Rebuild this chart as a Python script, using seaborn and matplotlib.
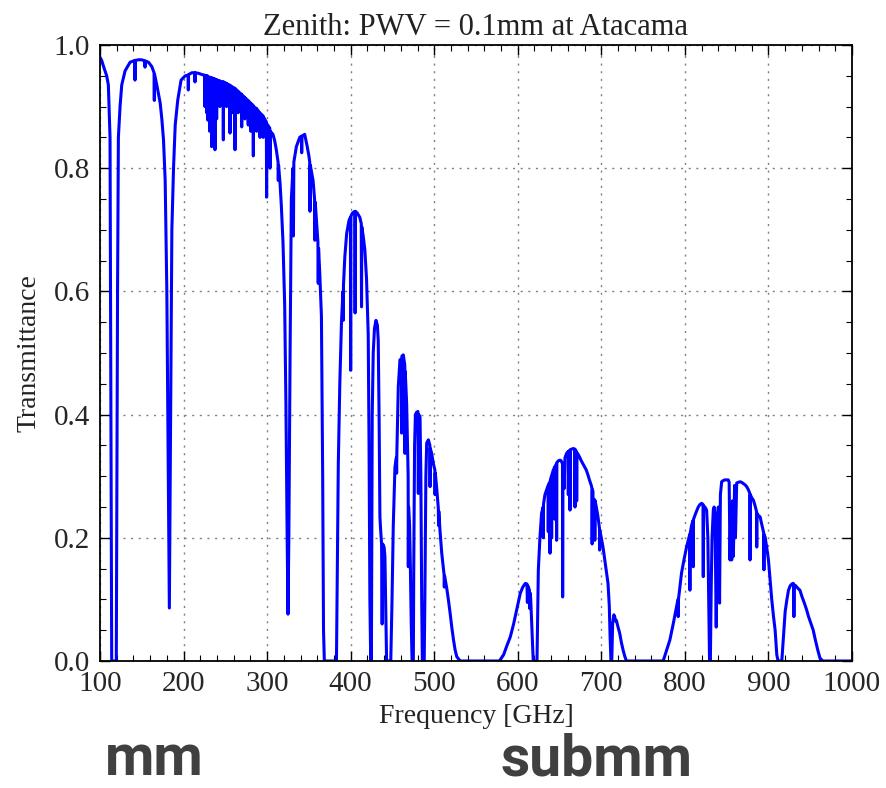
import matplotlib
matplotlib.use("Agg")
import matplotlib.pyplot as plt
import seaborn as sns
import numpy as np
import pandas as pd
from matplotlib.ticker import MultipleLocator

# ---------------- data ----------------
# window 1: 100 - 183 GHz
freq_w1 = [100, 102, 105, 108, 110, 112, 113, 114, 119.5, 121, 122, 124, 126, 130, 136,
           141.6, 141.9, 142.2, 146, 150, 153.6, 153.9, 154.2, 158, 162, 164.7, 165, 165.3,
           168, 172, 174, 176, 178, 180, 181.5, 183]
tr_w1 = [0.98, 0.975, 0.962, 0.95, 0.935, 0.85, 0.45, 0.0, 0.0, 0.6, 0.85, 0.9, 0.935, 0.958, 0.972,
         0.975, 0.943, 0.975, 0.976, 0.976, 0.974, 0.964, 0.974, 0.972, 0.965, 0.955, 0.91, 0.952,
         0.935, 0.906, 0.88, 0.846, 0.78, 0.6, 0.35, 0.086]

# window 2: 183 - 325 GHz
freq_w2 = [184.5, 186, 188, 190, 193, 197, 202, 205.4, 205.7, 206.0, 210, 213.4, 213.7, 214.0,
           218, 222, 225.3, 225.6, 225.9, 227.3, 227.6, 227.9, 228.7, 229.0, 229.3, 231.0, 231.3,
           231.6, 233.3, 233.6, 233.9, 235.5, 235.8, 236.1, 237.3, 237.6, 237.9, 239.3, 239.6,
           239.9, 243.1, 243.4, 243.7, 247.3, 247.6, 247.9, 251.1, 251.4, 251.7, 255.3, 255.6,
           255.9, 258.5, 258.8, 259.1, 261.3, 261.6, 261.9, 265.1, 265.4, 265.7, 269.3, 269.6,
           269.9, 273.1, 273.4, 273.7, 277.1, 277.4, 277.7, 280.1, 280.4, 280.7, 283.2, 283.5,
           283.8, 287.1, 287.4, 287.7, 291.2, 291.5, 291.8, 295.1, 295.4, 295.7, 299.1, 299.4,
           299.7, 303.2, 303.5, 303.8, 307, 309, 311, 313.1, 313.4, 313.7, 315.5, 317, 319, 321,
           322.5, 324, 325]
tr_w2 = [0.4, 0.7, 0.8, 0.87, 0.91, 0.943, 0.95, 0.951, 0.927, 0.952, 0.955, 0.955, 0.94, 0.955,
         0.954, 0.952, 0.951, 0.9, 0.95, 0.95, 0.89, 0.95, 0.95, 0.878, 0.948, 0.948, 0.86, 0.947,
         0.947, 0.835, 0.946, 0.946, 0.87, 0.945, 0.945, 0.83, 0.944, 0.944, 0.88, 0.943, 0.942,
         0.9, 0.941, 0.94, 0.846, 0.94, 0.938, 0.9, 0.937, 0.935, 0.857, 0.934, 0.932, 0.89, 0.931,
         0.93, 0.83, 0.929, 0.925, 0.89, 0.924, 0.92, 0.867, 0.919, 0.915, 0.88, 0.914, 0.91, 0.87,
         0.909, 0.906, 0.86, 0.905, 0.902, 0.82, 0.9, 0.897, 0.86, 0.896, 0.89, 0.85, 0.889, 0.885,
         0.85, 0.883, 0.875, 0.753, 0.872, 0.865, 0.8, 0.86, 0.855, 0.845, 0.83, 0.81, 0.78, 0.805,
         0.775, 0.74, 0.68, 0.58, 0.42, 0.2, 0.076]

# window 3: 325 - 368 GHz
freq_w3 = [326, 327.5, 329, 331, 331.5, 332, 335, 339, 341, 341.4, 341.8, 345, 348, 350, 351,
           351.3, 351.7, 353, 355, 356.8, 357.2, 357.6, 359, 360.8, 361.2, 361.6, 363, 365, 366.5,
           367.5, 368.5]
tr_w3 = [0.2, 0.5, 0.75, 0.8, 0.69, 0.81, 0.835, 0.85, 0.852, 0.825, 0.852, 0.855, 0.835, 0.82,
         0.81, 0.73, 0.805, 0.795, 0.78, 0.75, 0.683, 0.745, 0.716, 0.68, 0.613, 0.67, 0.63, 0.56,
         0.3, 0.05, 0.0]

# window 4: 383 - 447 GHz
freq_w4 = [383, 384, 385.2, 387, 389, 390.8, 391.1, 391.4, 393, 395.2, 398, 399.7, 400, 400.3,
           402, 405, 405.3, 405.6, 408, 411, 412.7, 413, 413.3, 415, 417, 419, 421, 422, 423, 424,
           424.8, 425.8, 427, 428.5, 430.3, 432, 433, 434, 435, 436, 437, 437.7, 438.3, 440, 441,
           442, 443, 447]
tr_w4 = [0.0, 0.15, 0.32, 0.45, 0.55, 0.6, 0.553, 0.61, 0.656, 0.694, 0.715, 0.72, 0.472, 0.722,
         0.727, 0.73, 0.565, 0.73, 0.727, 0.72, 0.71, 0.575, 0.705, 0.69, 0.667, 0.62, 0.53, 0.35,
         0.1, 0.0, 0.0, 0.4, 0.5, 0.54, 0.553, 0.545, 0.52, 0.4, 0.234, 0.21, 0.19, 0.06, 0.19,
         0.185, 0.17, 0.08, 0.0, 0.0]

# window 5: 447 - 578 GHz
freq_w5 = [448, 449.5, 451, 453, 454.7, 455, 455.3, 457, 459, 460.8, 461, 461.3, 463, 464.8, 465,
           465.3, 467, 468.8, 469, 469.3, 470.5, 471.5, 472.5, 473.5, 475, 475.5, 476.5, 477.5,
           479, 480.5, 481, 481.5, 483, 484, 485, 485.8, 488, 488.8, 490, 491, 493, 494.8, 495,
           495.3, 497, 499, 500.8, 501, 501.3, 503, 504.9, 505.2, 505.5, 507, 509, 511, 511.8,
           512.1, 512.4, 515, 517, 519, 521, 523, 525, 527, 531, 578]
tr_w5 = [0.0, 0.1, 0.22, 0.315, 0.33, 0.305, 0.34, 0.445, 0.489, 0.49, 0.37, 0.495, 0.497, 0.48,
         0.337, 0.47, 0.418, 0.3, 0.153, 0.25, 0.22, 0.15, 0.06, 0.0, 0.0, 0.15, 0.35, 0.4, 0.404,
         0.405, 0.272, 0.4, 0.396, 0.3, 0.1, 0.0, 0.0, 0.1, 0.3, 0.354, 0.359, 0.35, 0.283, 0.345,
         0.337, 0.32, 0.31, 0.27, 0.305, 0.28, 0.248, 0.22, 0.243, 0.21, 0.175, 0.15, 0.14, 0.12,
         0.138, 0.118, 0.099, 0.078, 0.055, 0.035, 0.018, 0.007, 0.0, 0.0]

# window 6: 578 - 621 GHz
freq_w6 = [583, 587, 591, 595, 599, 603, 606, 609, 611, 611.5, 612, 614, 614.5, 615, 615.5, 617,
           618.5, 623]
tr_w6 = [0.01, 0.025, 0.039, 0.06, 0.085, 0.11, 0.12, 0.126, 0.125, 0.095, 0.122, 0.115, 0.085,
         0.11, 0.1, 0.05, 0.0, 0.0]

# window 7: 623 - 773 GHz
freq_w7 = [623.5, 624.6, 626.5, 628.5, 630.3, 630.5, 630.8, 632.5, 634.5, 636.3, 636.5, 636.8,
           638.4, 638.6, 638.8, 640.3, 640.5, 640.8, 642.5, 644.3, 644.5, 644.8, 646.3, 646.5,
           646.8, 648.5, 650.5, 652, 653.5, 653.7, 654, 655.5, 656.5, 658.4, 660.3, 660.5, 660.8,
           662.3, 662.5, 662.8, 664.5, 666.5, 668.3, 668.5, 668.8, 670.3, 670.5, 670.8, 672, 674,
           676, 678, 680, 682, 684, 686, 688, 688.8, 689, 689.3, 690, 690.3, 692, 692.2, 692.5,
           694, 696, 697.8, 698, 698.3, 700, 702, 704, 706, 708, 709.5, 710.5, 711.5, 712.5,
           713.5, 715, 716, 717, 718, 720, 722, 724, 726, 728, 730, 773]
tr_w7 = [0.05, 0.148, 0.2, 0.24, 0.25, 0.2, 0.255, 0.27, 0.278, 0.285, 0.21, 0.287, 0.29, 0.175,
         0.292, 0.3, 0.2, 0.302, 0.31, 0.315, 0.23, 0.316, 0.32, 0.196, 0.322, 0.325, 0.326, 0.325,
         0.32, 0.104, 0.315, 0.28, 0.33, 0.337, 0.34, 0.27, 0.34, 0.342, 0.245, 0.343, 0.344,
         0.345, 0.344, 0.25, 0.343, 0.34, 0.26, 0.338, 0.336, 0.331, 0.325, 0.32, 0.315, 0.31,
         0.302, 0.293, 0.285, 0.28, 0.19, 0.278, 0.275, 0.22, 0.262, 0.196, 0.26, 0.25, 0.234,
         0.215, 0.18, 0.212, 0.2, 0.185, 0.165, 0.145, 0.126, 0.09, 0.04, 0.0, 0.0, 0.06, 0.075,
         0.072, 0.065, 0.066, 0.055, 0.045, 0.03, 0.018, 0.008, 0.0, 0.0]

# window 8: 773 - 914 GHz
freq_w8 = [774, 778, 782, 786, 790, 791.7, 792, 792.3, 796, 799, 802, 805.7, 806, 806.3, 808,
           809.7, 810, 810.3, 813, 816, 818, 820, 821.7, 822, 822.3, 824, 826, 827.5, 828.5, 829.5,
           830.5, 831.5, 832.5, 834, 835, 836, 837.5, 838.5, 840, 841.5, 842.5, 844, 846, 848, 850,
           852, 853, 854, 855, 856, 857, 858, 859.5, 860.5, 862, 864, 866, 868, 870, 872, 874, 876,
           877.7, 878, 878.3, 880, 882, 884, 885.7, 886, 886.3, 888, 890, 892, 894.3, 894.6, 894.9,
           896, 898, 900, 902, 904, 906, 908, 910, 911.5]
tr_w8 = [0.0, 0.017, 0.034, 0.06, 0.088, 0.1, 0.072, 0.1, 0.143, 0.165, 0.185, 0.205, 0.115,
         0.207, 0.22, 0.228, 0.153, 0.23, 0.24, 0.25, 0.254, 0.256, 0.254, 0.137, 0.252, 0.25,
         0.245, 0.2, 0.1, 0.0, 0.0, 0.12, 0.2, 0.245, 0.25, 0.24, 0.055, 0.2, 0.25, 0.094, 0.27,
         0.291, 0.293, 0.294, 0.294, 0.294, 0.29, 0.164, 0.25, 0.164, 0.26, 0.17, 0.285, 0.2,
         0.289, 0.29, 0.291, 0.29, 0.288, 0.286, 0.283, 0.278, 0.272, 0.164, 0.27, 0.265, 0.261,
         0.252, 0.243, 0.185, 0.24, 0.236, 0.234, 0.222, 0.208, 0.148, 0.205, 0.201, 0.184, 0.164,
         0.132, 0.099, 0.073, 0.05, 0.01, 0.0]

# window 9: 914 - 1000 GHz
freq_w9 = [916, 918, 920, 922, 924, 926, 928, 929.7, 930.2, 930.5, 930.8, 932, 934, 936, 937.7,
           940, 943, 945.7, 948, 951, 953.6, 956, 959, 961.6, 965, 1000]
tr_w9 = [0.0, 0.04, 0.08, 0.099, 0.115, 0.122, 0.125, 0.126, 0.124, 0.072, 0.122, 0.123, 0.12,
         0.117, 0.115, 0.105, 0.094, 0.083, 0.072, 0.06, 0.05, 0.035, 0.018, 0.005, 0.0, 0.0]

title_text = "Zenith: PWV = 0.1mm at Atacama"
xlabel_text = "Frequency [GHz]"
ylabel_text = "Transmittance"
band_labels = ["mm", "submm"]

# ---------------- build frame ----------------
freq = freq_w1 + freq_w2 + freq_w3 + freq_w4 + freq_w5 + freq_w6 + freq_w7 + freq_w8 + freq_w9
trans = tr_w1 + tr_w2 + tr_w3 + tr_w4 + tr_w5 + tr_w6 + tr_w7 + tr_w8 + tr_w9
df = pd.DataFrame({"freq": freq, "trans": trans})

# ---------------- style ----------------
sns.set_style("white")
plt.rcParams["font.family"] = ["Liberation Serif", "DejaVu Serif"]

fig = plt.figure(figsize=(8.87, 7.88), dpi=100)
ax = fig.add_axes([100 / 887, 1 - 661 / 788, 752 / 887, 616 / 788])

sns.lineplot(data=df, x="freq", y="trans", ax=ax, color="#0000ff", linewidth=2.2,
             estimator=None, sort=False)

ax.set_xlim(100, 1000)
ax.set_ylim(0, 1.0)
ax.xaxis.set_major_locator(MultipleLocator(100))
ax.xaxis.set_minor_locator(MultipleLocator(20))
ax.yaxis.set_major_locator(MultipleLocator(0.2))
ax.yaxis.set_minor_locator(MultipleLocator(0.05))
ax.set_yticklabels([f"{v:.1f}" for v in ax.get_yticks()])

ax.tick_params(which="both", direction="in", top=True, right=True, bottom=True, left=True,
               color="black")
ax.tick_params(which="major", length=7, width=1.0, labelsize=21, pad=7)
ax.tick_params(which="minor", length=4, width=0.8)

ax.grid(True, which="major", linestyle=(0, (1.5, 4)), color="#808080", linewidth=1.0)
for s in ax.spines.values():
    s.set_color("black")
    s.set_linewidth(1.3)
    s.set_visible(True)

ax.set_title(title_text, fontsize=22, pad=7, color="#222222")
ax.set_xlabel(xlabel_text, fontsize=20, labelpad=5, color="#222222")
ax.set_ylabel(ylabel_text, fontsize=20, labelpad=9, color="#222222")

band_font = ["Roboto", "Open Sans", "DejaVu Sans"]
fig.text(154 / 887, 1 / 788, band_labels[0], ha="center", va="bottom", fontsize=41,
         fontweight="bold", color="#404040", family=band_font)
fig.text(597 / 887, 1 / 788, band_labels[1], ha="center", va="bottom", fontsize=41,
         fontweight="bold", color="#404040", family=band_font)

fig.savefig("out.png", dpi=100)
